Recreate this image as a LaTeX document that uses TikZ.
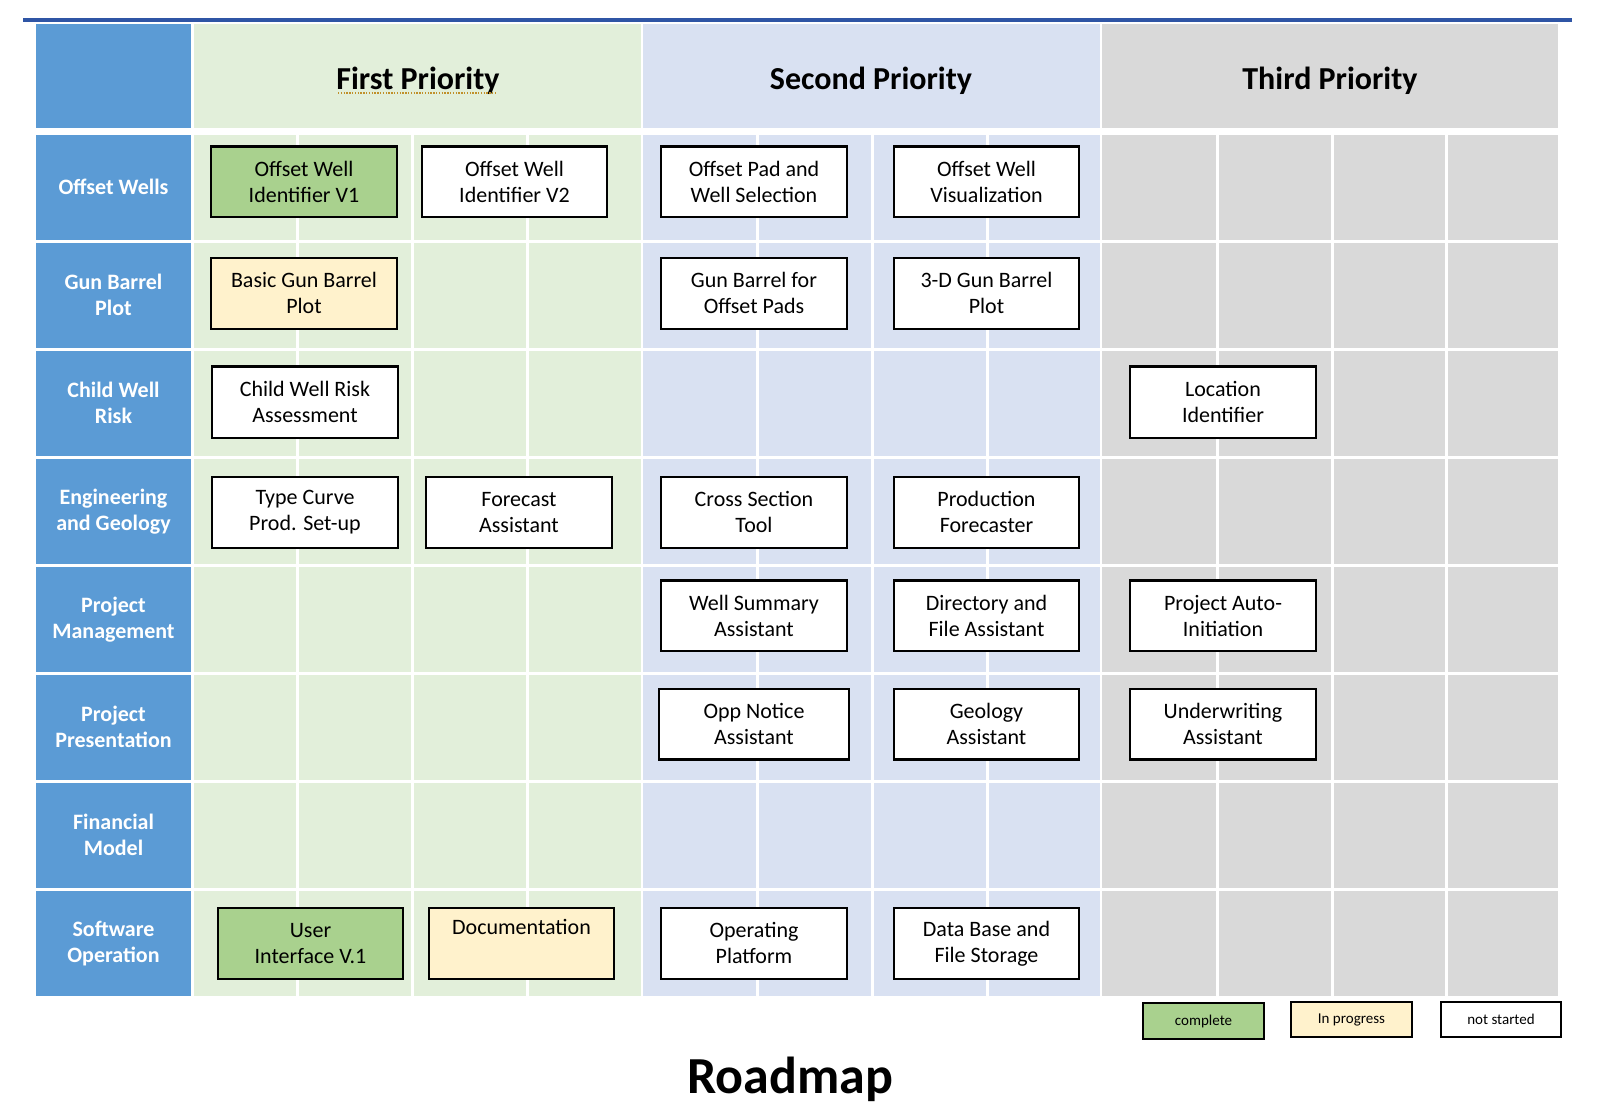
\documentclass[tikz,border=0pt]{standalone}
\usepackage{fontspec}
\setmainfont{Carlito}
\definecolor{hblue}{HTML}{5B9BD5}
\definecolor{pgreen}{HTML}{E2EFDA}
\definecolor{pblue}{HTML}{D9E1F2}
\definecolor{pgray}{HTML}{D9D9D9}
\definecolor{bgreen}{HTML}{A9D18E}
\definecolor{byellow}{HTML}{FFF2CC}
\definecolor{topline}{HTML}{2F55A5}
\definecolor{squig}{HTML}{C0902A}
\newcommand{\taskbox}[7]{\node[#6, minimum width={(#4-#2)*0.5pt}, minimum height={(#5-#3)*0.5pt}] (#1) at ({(#2+#4)/2},{(#3+#5)/2}) {#7};}
\newcommand{\cellbox}[5]{\fill[#5] (#1,#2) rectangle (#3,#4);}
\begin{document}
\begin{tikzpicture}[x=0.5pt,y=-0.5pt,
  task/.style={draw=black, line width=1.1pt, fill=white, align=center, inner sep=0pt,
    font=\fontsize{11}{13}\selectfont},
  done/.style={task, fill=bgreen},
  prog/.style={task, fill=byellow},
  rowhead/.style={text=white, align=center, inner sep=0pt,
    font=\bfseries\fontsize{11}{13}\selectfont},
  colhead/.style={anchor=base, inner sep=0pt, font=\bfseries\fontsize{16}{19}\selectfont},
  legbox/.style={draw=black, line width=1.1pt, inner sep=0pt, font=\fontsize{7.5}{9}\selectfont},
]
\useasboundingbox (0,0) rectangle (1603,1120);
\fill[white] (0,0) rectangle (1603,1120);
% top rule
\draw[topline, line width=1.6pt] (23,20) -- (1572,20);
% header row
\cellbox{36}{24}{191}{128}{hblue}
\cellbox{194}{24}{641}{128}{pgreen}
\cellbox{643}{24}{1100}{128}{pblue}
\cellbox{1102}{24}{1558}{128}{pgray}
% body cells
\foreach \r in {0,...,7}{
  \pgfmathsetmacro{\yt}{135+108*\r}
  \pgfmathsetmacro{\yb}{\yt+104.5}
  \fill[hblue] (36,\yt) rectangle (191,\yb);
  \foreach \xa/\xb/\cc in {194/295.5/pgreen, 298.5/410.5/pgreen, 413.5/525.5/pgreen, 528.5/641/pgreen,
      643/755.5/pblue, 758.5/870.5/pblue, 873.5/985.5/pblue, 988.5/1100/pblue,
      1102/1215.5/pgray, 1218.5/1330.5/pgray, 1333.5/1444.5/pgray, 1447.5/1558/pgray}{
    \fill[\cc] (\xa,\yt) rectangle (\xb,\yb);
  }
}
% column headers
\node[colhead] (h1) at (418,89) {First Priority};
\draw[squig, line width=0.7pt, dash pattern=on 0.7pt off 0.7pt] (338,93) -- (497,93);
\node[colhead] (h2) at (871,89) {Second Priority};
\node[colhead] (h3) at (1330,89) {Third Priority};
% row headers
\node[rowhead] (r1) at (113.5,187.25) {Offset Wells};
\node[rowhead] (r2) at (113.5,295.25) {Gun Barrel\\Plot};
\node[rowhead] (r3) at (113.5,403.25) {Child Well\\Risk};
\node[rowhead] (r4) at (113.5,511.25) {Engineering\\and Geology};
\node[rowhead] (r5) at (113.5,619.25) {Project\\Management};
\node[rowhead] (r6) at (113.5,727.25) {Project\\Presentation};
\node[rowhead] (r7) at (113.5,835.25) {Financial\\Model};
\node[rowhead] (r8) at (113.5,943.25) {Software\\Operation};
% row 1
\taskbox{t11}{211}{146.4}{397}{217}{done}{Offset Well\\Identifier V1}
\taskbox{t12}{422}{146.4}{607}{217}{task}{Offset Well\\Identifier V2}
\taskbox{t13}{661}{146.4}{847}{217}{task}{Offset Pad and\\Well Selection}
\taskbox{t14}{894}{146.4}{1079}{217}{task}{Offset Well\\Visualization}
% row 2
\taskbox{t21}{211}{258}{397}{328.6}{prog}{Basic Gun Barrel\\Plot}
\taskbox{t23}{661}{258}{847}{328.6}{task}{Gun Barrel for\\Offset Pads}
\taskbox{t24}{894}{258}{1079}{328.6}{task}{3-D Gun Barrel\\Plot}
% row 3
\taskbox{t31}{212}{366.5}{398}{438}{task}{Child Well Risk\\Assessment}
\taskbox{t35}{1130}{366.5}{1316}{438}{task}{Location\\Identifier}
% row 4
\taskbox{t41}{212}{477}{398}{547.6}{task}{Type Curve\\Prod. Set-up}
\taskbox{t42}{426}{477}{612}{547.6}{task}{Forecast\\Assistant}
\taskbox{t43}{661}{477}{847}{547.6}{task}{Cross Section\\Tool}
\taskbox{t44}{894}{477}{1079}{547.6}{task}{Production\\Forecaster}
% row 5
\taskbox{t53}{661}{580.4}{847}{651}{task}{Well Summary\\Assistant}
\taskbox{t54}{894}{580.4}{1079}{651}{task}{Directory and\\File Assistant}
\taskbox{t55}{1130}{580.4}{1316}{651}{task}{Project Auto-\\Initiation}
% row 6
\taskbox{t63}{659}{689}{849}{759.5}{task}{Opp Notice\\Assistant}
\taskbox{t64}{894}{689}{1079}{759.5}{task}{Geology\\Assistant}
\taskbox{t65}{1130}{689}{1316}{759.5}{task}{Underwriting\\Assistant}
% row 8
\taskbox{t81}{218}{908}{403}{978.6}{done}{User\\Interface V.1}
\taskbox{t82}{429}{908}{614}{978.6}{prog}{Documentation\\\strut}
\taskbox{t83}{661}{908}{847}{978.6}{task}{Operating\\Platform}
\taskbox{t84}{894}{908}{1079}{978.6}{task}{Data Base and\\File Storage}
% legend
\taskbox{l1}{1143}{1003}{1264}{1039}{legbox, fill=bgreen}{complete}
\taskbox{l2}{1291}{1002}{1412}{1037}{legbox, fill=byellow}{In progress}
\taskbox{l3}{1441}{1002}{1561}{1037}{legbox, fill=white}{not started}
% title
\node[anchor=base, inner sep=0pt, font=\bfseries\fontsize{26}{31}\selectfont] (title) at (790,1093) {Roadmap};
\end{tikzpicture}
\end{document}
